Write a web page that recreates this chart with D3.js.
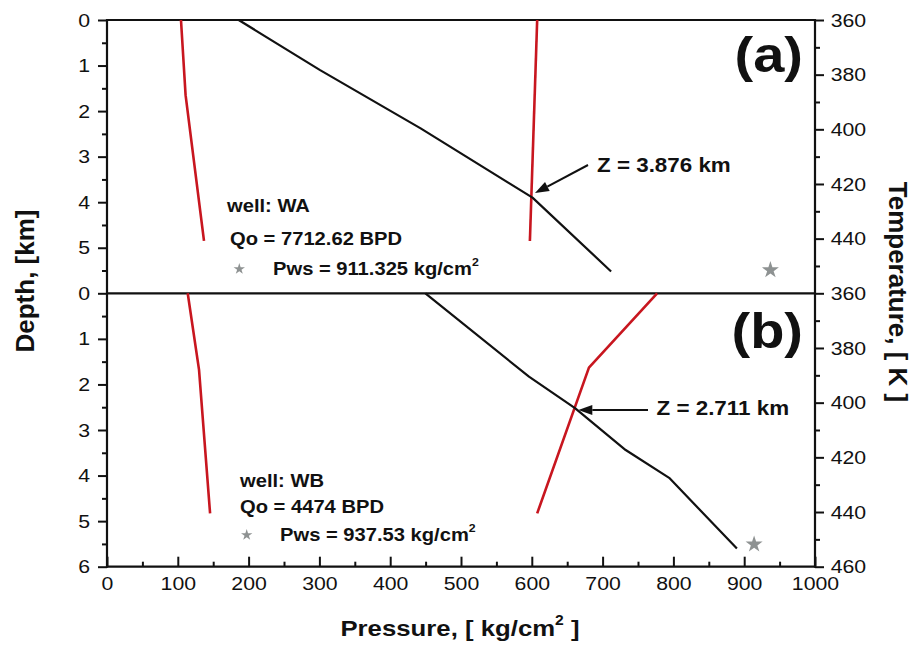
<!DOCTYPE html>
<html>
<head>
<meta charset="utf-8">
<script src="https://cdn.jsdelivr.net/npm/d3@7"></script>
<style>
  body { margin: 0; background: #fff; }
  svg { display: block; font-family: "Liberation Sans", Arial, sans-serif; }
</style>
</head>
<body>
<div class="container"></div>
<script>
const w = 912;
const h = 645;
const left = 107, right = 815;
const topA = 20, mid = 293.3, bottom = 566.7;
const SX = 1.12; // the source figure is a little wider than tall

// ticks
const pressureTicks = [0, 100, 200, 300, 400, 500, 600, 700, 800, 900, 1000];
const pressureMinor = [50, 150, 250, 350, 450, 550, 650, 750, 850, 950];
const depthTicksA = [0, 1, 2, 3, 4, 5];
const depthTicksB = [0, 1, 2, 3, 4, 5, 6];
const depthMinor = [0.5, 1.5, 2.5, 3.5, 4.5, 5.5];
const tempTicksA = [360, 380, 400, 420, 440];
const tempTicksB = [360, 380, 400, 420, 440, 460];
const tempMinor = [370, 390, 410, 430, 450];

// well WA  [pressure, depth]
const redA1 = [[104.5, 0], [111, 1.65], [137, 4.85]];
const redA2 = [[607.6, 0], [597.3, 4.85]];
const blackA = [[186, 0], [301, 1.1], [443, 2.38], [601, 3.9], [712, 5.52]];
const starA = [937, 5.49];

// well WB
const redB1 = [[114, 0], [130, 1.68], [145.6, 4.83]];
const redB2 = [[777, 0], [680.7, 1.63], [607.6, 4.83]];
const blackB = [[449.7, 0], [596, 1.83], [661, 2.52], [732.6, 3.44], [794, 4.05], [889.7, 5.6]];
const starB = [914, 5.51];

const svg = d3.select(".container")
          .append("svg")
          .attr("width", w)
          .attr("height", h);

const x = d3.scaleLinear().domain([0, 1000]).range([left, right]);
const yA = d3.scaleLinear().domain([0, 6]).range([topA, mid]);
const yB = d3.scaleLinear().domain([0, 6]).range([mid, bottom]);
const tA = d3.scaleLinear().domain([360, 460]).range([topA, mid]);
const tB = d3.scaleLinear().domain([360, 460]).range([mid, bottom]);

function drawAxis(axis, tx, ty){
    const g = svg.append("g")
        .attr("transform", "translate(" + tx + "," + ty + ")")
        .call(axis);
    g.select(".domain").remove();
    g.attr("font-family", null).attr("font-size", 19);
    g.selectAll(".tick line").attr("stroke", "#111").attr("stroke-width", 2);
    g.selectAll(".tick text").attr("fill", "#111").attr("transform", "scale(" + SX + ",1)");
    return g;
}

// left depth axes
drawAxis(d3.axisLeft(yA).tickValues(depthTicksA).tickSize(9).tickPadding(6).tickFormat(d3.format("d")), left, 0);
drawAxis(d3.axisLeft(yA).tickValues(depthMinor).tickSize(5).tickFormat(""), left, 0);
drawAxis(d3.axisLeft(yB).tickValues(depthTicksB).tickSize(9).tickPadding(6).tickFormat(d3.format("d")), left, 0);
drawAxis(d3.axisLeft(yB).tickValues(depthMinor).tickSize(5).tickFormat(""), left, 0);

// right temperature axes
drawAxis(d3.axisRight(tA).tickValues(tempTicksA).tickSize(9).tickPadding(5).tickFormat(d3.format("d")), right, 0);
drawAxis(d3.axisRight(tA).tickValues(tempMinor).tickSize(5).tickFormat(""), right, 0);
drawAxis(d3.axisRight(tB).tickValues(tempTicksB).tickSize(9).tickPadding(5).tickFormat(d3.format("d")), right, 0);
drawAxis(d3.axisRight(tB).tickValues(tempMinor).tickSize(5).tickFormat(""), right, 0);

// bottom pressure axis, ticks pointing inward
drawAxis(d3.axisBottom(x).tickValues(pressureTicks).tickSizeInner(-10).tickSizeOuter(0).tickPadding(10).tickFormat(d3.format("d")), 0, bottom);
drawAxis(d3.axisBottom(x).tickValues(pressureMinor).tickSizeInner(-5).tickSizeOuter(0).tickFormat(""), 0, bottom);

// frame
const frame = svg.append("g").attr("stroke", "#111").attr("stroke-width", 2.2);
[topA, mid, bottom].forEach(yy => {
    frame.append("line").attr("x1", left).attr("x2", right).attr("y1", yy).attr("y2", yy);
});
[left, right].forEach(xx => {
    frame.append("line").attr("x1", xx).attr("x2", xx).attr("y1", topA - 1).attr("y2", bottom + 1);
});

// data lines
function drawLine(data, yScale, color, width){
    const line = d3.line().x(d => x(d[0])).y(d => yScale(d[1]));
    svg.append("path")
        .datum(data)
        .attr("fill", "none")
        .attr("stroke", color)
        .attr("stroke-width", width)
        .attr("stroke-linejoin", "round")
        .attr("d", line);
}
const red = "#c8161f";
drawLine(redA1, yA, red, 2.6);
drawLine(redA2, yA, red, 2.6);
drawLine(blackA, yA, "#111", 2.2);
drawLine(redB1, yB, red, 2.6);
drawLine(redB2, yB, red, 2.6);
drawLine(blackB, yB, "#111", 2.2);

const starColor = "#8e9292";
const star = d3.symbol(d3.symbolStar);
svg.append("path").attr("d", star.size(90)())
    .attr("transform", "translate(" + x(starA[0]) + "," + yA(starA[1]) + ")")
    .attr("fill", starColor);
svg.append("path").attr("d", star.size(90)())
    .attr("transform", "translate(" + x(starB[0]) + "," + yB(starB[1]) + ")")
    .attr("fill", starColor);

// text helper, stretched like the source
function label(tx, ty, str, size, weight, anchor){
    return svg.append("text")
        .attr("transform", "translate(" + tx + "," + ty + ") scale(" + SX + ",1)")
        .attr("font-size", size)
        .attr("font-weight", weight || "bold")
        .attr("text-anchor", anchor || "start")
        .attr("fill", "#111")
        .text(str);
}

// panel letters
label(803, 72, "(a)", 50, "bold", "end");
label(803, 348, "(b)", 50, "bold", "end");

// legends
label(227, 211.7, "well: WA", 18);
label(230, 245, "Qo = 7712.62 BPD", 18);
const pa = label(273, 275, "Pws = 911.325 kg/cm", 18);
pa.append("tspan").attr("font-size", 11).attr("dy", -9).text("2");
svg.append("path").attr("d", star.size(40)()).attr("transform", "translate(239.3,269)").attr("fill", starColor);

label(240, 486.7, "well: WB", 18);
label(240, 513.3, "Qo = 4474 BPD", 18);
const pb = label(280, 540.7, "Pws = 937.53 kg/cm", 18);
pb.append("tspan").attr("font-size", 11).attr("dy", -9).text("2");
svg.append("path").attr("d", star.size(40)()).attr("transform", "translate(246.7,535)").attr("fill", starColor);

// intersection annotations
function arrow(x1, y1, x2, y2){
    const ang = Math.atan2(y2 - y1, x2 - x1);
    const hl = 14, hw = 5;
    const bx = x2 - hl * Math.cos(ang), by = y2 - hl * Math.sin(ang);
    svg.append("line").attr("x1", x1).attr("y1", y1).attr("x2", bx).attr("y2", by)
        .attr("stroke", "#111").attr("stroke-width", 2);
    const px = -Math.sin(ang) * hw, py = Math.cos(ang) * hw;
    svg.append("polygon")
        .attr("points", [[x2, y2], [bx + px, by + py], [bx - px, by - py]].map(p => p.join(",")).join(" "))
        .attr("fill", "#111");
}
arrow(588, 165, x(604.5), yA(3.8));
label(597, 171.7, "Z = 3.876 km", 20);
arrow(648, 410, x(665.7), yB(2.56));
label(656.5, 415, "Z = 2.711 km", 20);

// axis titles
const xt = label(460, 636, "Pressure, [ kg/cm", 23, "bold", "middle");
xt.append("tspan").attr("font-size", 14).attr("dy", -11).text("2");
xt.append("tspan").attr("dy", 11).text(" ]");

svg.append("text")
    .attr("transform", "translate(34,281) rotate(-90)")
    .attr("font-size", 26).attr("font-weight", "bold")
    .attr("text-anchor", "middle").attr("fill", "#111")
    .text("Depth, [km]");

svg.append("text")
    .attr("transform", "translate(889,292) rotate(90)")
    .attr("font-size", 26).attr("font-weight", "bold")
    .attr("text-anchor", "middle").attr("fill", "#111")
    .text("Temperature, [ K ]");
</script>
</body>
</html>
